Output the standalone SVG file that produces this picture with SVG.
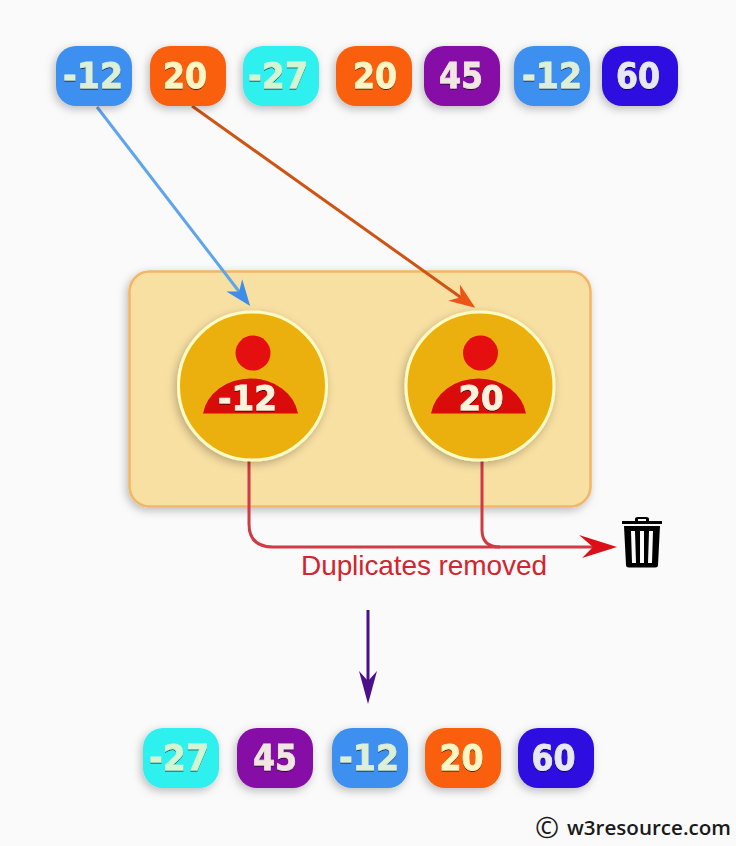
<svg xmlns="http://www.w3.org/2000/svg" width="736" height="846" viewBox="0 0 736 846">
<defs>
<filter id="sh" x="-30%" y="-30%" width="160%" height="160%"><feDropShadow dx="-2" dy="3" stdDeviation="4" flood-color="#000" flood-opacity="0.25"/></filter>
<filter id="ts" x="-20%" y="-20%" width="140%" height="140%"><feDropShadow dx="0" dy="1" stdDeviation="0.6" flood-color="#000" flood-opacity="0.7"/></filter>
<marker id="mb" markerUnits="userSpaceOnUse" markerWidth="30" markerHeight="26" refX="11" refY="13" orient="auto"><path d="M0 3L26 13L0 23L8 13Z" fill="#3d8eea"/></marker>
<marker id="mo" markerUnits="userSpaceOnUse" markerWidth="30" markerHeight="26" refX="11" refY="13" orient="auto"><path d="M0 3L26 13L0 23L8 13Z" fill="#ee5418"/></marker>
<marker id="mr" markerUnits="userSpaceOnUse" markerWidth="42" markerHeight="28" refX="21" refY="14" orient="auto"><path d="M0 2L38 14L3 25L14 14Z" fill="#dc0f18"/></marker>
<marker id="mp" markerUnits="userSpaceOnUse" markerWidth="36" markerHeight="22" refX="20" refY="11" orient="auto"><path d="M0 2L33 11L0 20L10 11Z" fill="#4b0f8c"/></marker>
</defs>
<style>
.chip{filter:url(#sh)}
.t{font-family:"DejaVu Sans",sans-serif;font-weight:700;font-size:36px;text-anchor:middle;filter:url(#ts);stroke-width:0.8px}
.b{fill:#3e8ff0}.o{fill:#fa5f0a}.c{fill:#2df0ee}.p{fill:#860fa6}.n{fill:#2f0fe0}
.tb{fill:#dcefd8;stroke:#dcefd8}.to{fill:#fcf6c4;stroke:#fcf6c4}.tc{fill:#d2f5d2;stroke:#d2f5d2}.tp{fill:#f0e6e2;stroke:#f0e6e2}.tn{fill:#e8e8f2;stroke:#e8e8f2}
.tw{fill:#fbf3dc;stroke:#fbf3dc;font-size:34px}
.line{fill:none;stroke-width:3}
</style>
<rect width="736" height="846" fill="#fafafa"/>
<g id="container"><rect x="129.500" y="271.500" width="461" height="235" rx="20" fill="#f8dfa2" stroke="#f2b666" stroke-width="2.500" filter="url(#sh)"/></g>
<g id="connectors">
<path class="line" d="M97 107L241 294" stroke="#5fa5ee" marker-end="url(#mb)"/>
<path class="line" d="M192 106L463 299" stroke="#cf5414" marker-end="url(#mo)"/>
<path class="line" d="M249 461V524Q249 547 273 547H600" stroke="#cf3a44" marker-end="url(#mr)"/>
<path class="line" d="M482 461V530Q482 547 500 547" stroke="#cf3a44"/>
<path d="M368 610V691" fill="none" stroke="#4b0f8c" stroke-width="3" marker-end="url(#mp)"/>
</g>
<g id="n1" class="chip"><rect class="b" x="56" y="46" width="76" height="60" rx="20"/><text class="t tb" x="93" y="88" textLength="60" lengthAdjust="spacingAndGlyphs">-12</text></g>
<g id="n2" class="chip"><rect class="o" x="150" y="46" width="76" height="60" rx="20"/><text class="t to" x="185" y="88" textLength="44" lengthAdjust="spacingAndGlyphs">20</text></g>
<g id="n3" class="chip"><rect class="c" x="243" y="46" width="76" height="60" rx="20"/><text class="t tc" x="278" y="88" textLength="60" lengthAdjust="spacingAndGlyphs">-27</text></g>
<g id="n4" class="chip"><rect class="o" x="336" y="46" width="76" height="60" rx="20"/><text class="t to" x="375" y="88" textLength="44" lengthAdjust="spacingAndGlyphs">20</text></g>
<g id="n5" class="chip"><rect class="p" x="424" y="46" width="76" height="60" rx="20"/><text class="t tp" x="461" y="88" textLength="44" lengthAdjust="spacingAndGlyphs">45</text></g>
<g id="n6" class="chip"><rect class="b" x="514" y="46" width="76" height="60" rx="20"/><text class="t tb" x="552" y="88" textLength="60" lengthAdjust="spacingAndGlyphs">-12</text></g>
<g id="n7" class="chip"><rect class="n" x="602" y="46" width="76" height="60" rx="20"/><text class="t tn" x="638" y="88" textLength="44" lengthAdjust="spacingAndGlyphs">60</text></g>
<g id="person1"><circle cx="252.500" cy="386" r="74" fill="#ebb00c" stroke="#fdfbc4" stroke-width="3" filter="url(#sh)"/><circle cx="253" cy="353" r="17.500" fill="#e50f0f"/><path d="M203 413.500A48 41 0 0 1 298 413.500Z" fill="#d90b0b"/><text class="t tw" x="247.500" y="410" textLength="59" lengthAdjust="spacingAndGlyphs">-12</text></g>
<g id="person2"><circle cx="480" cy="386" r="74" fill="#ebb00c" stroke="#fdfbc4" stroke-width="3" filter="url(#sh)"/><circle cx="480.500" cy="353" r="17.500" fill="#e50f0f"/><path d="M431 413.500A48 41 0 0 1 526 413.500Z" fill="#d90b0b"/><text class="t tw" x="481" y="410" textLength="45" lengthAdjust="spacingAndGlyphs">20</text></g>
<text x="424" y="575" font-family="Liberation Sans, Arial, sans-serif" font-size="28" fill="#cf2630" text-anchor="middle" textLength="246">Duplicates removed</text>
<g id="trash" fill="#000">
<rect x="622" y="521" width="40" height="3"/>
<path d="M635 521V519Q635 517 638 517H646Q649 517 649 519V521H646V519H638V521Z"/>
<path d="M624 526H660L658 565Q658 567.500 655 567.500H629Q626 567.500 626 565ZM631 531L632 563H636L635 531ZM640 531V563H644V531ZM649 531L648 563H652L653 531Z" fill-rule="evenodd"/>
</g>
<g id="m1" class="chip"><rect class="c" x="143" y="728" width="76" height="60" rx="20"/><text class="t tc" x="179" y="770" textLength="60" lengthAdjust="spacingAndGlyphs">-27</text></g>
<g id="m2" class="chip"><rect class="p" x="237" y="728" width="76" height="60" rx="20"/><text class="t tp" x="275" y="770" textLength="44" lengthAdjust="spacingAndGlyphs">45</text></g>
<g id="m3" class="chip"><rect class="b" x="332" y="728" width="76" height="60" rx="20"/><text class="t tb" x="369" y="770" textLength="60" lengthAdjust="spacingAndGlyphs">-12</text></g>
<g id="m4" class="chip"><rect class="o" x="425" y="728" width="76" height="60" rx="20"/><text class="t to" x="461.500" y="770" textLength="44" lengthAdjust="spacingAndGlyphs">20</text></g>
<g id="m5" class="chip"><rect class="n" x="518" y="728" width="76" height="60" rx="20"/><text class="t tn" x="553.500" y="770" textLength="44" lengthAdjust="spacingAndGlyphs">60</text></g>
<text x="535" y="838" font-family="Open Sans, DejaVu Sans, sans-serif" font-size="29" fill="#1a1a1a">©</text>
<text x="567" y="835" font-family="Open Sans, DejaVu Sans, sans-serif" font-size="20" font-weight="600" fill="#1a1a1a" textLength="164" lengthAdjust="spacingAndGlyphs">w3resource.com</text>
</svg>
